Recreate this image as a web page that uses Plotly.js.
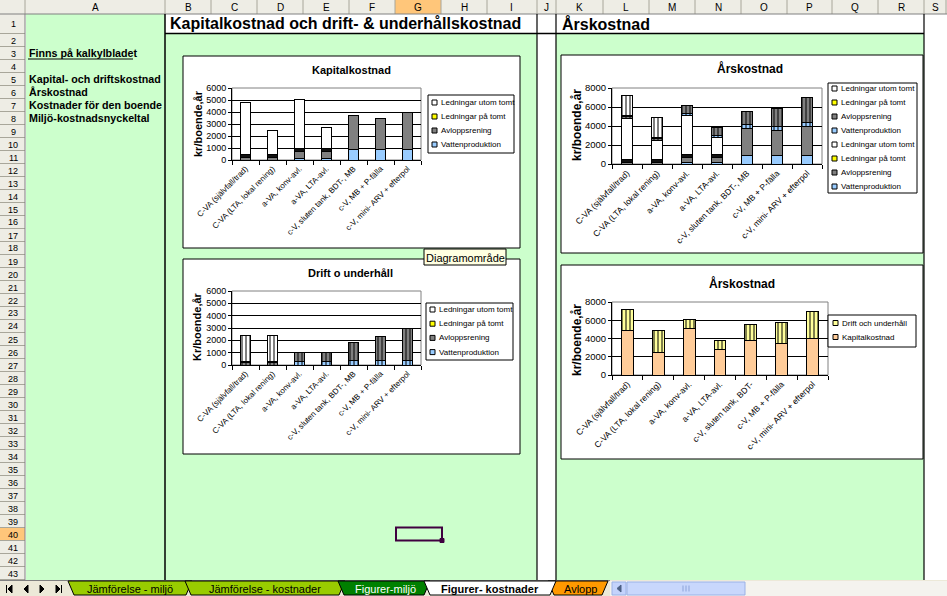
<!DOCTYPE html>
<html><head><meta charset="utf-8">
<script src="https://cdn.plot.ly/plotly-3.0.1.min.js"></script>
<style>html,body{margin:0;padding:0;background:#fff;overflow:hidden}#chart{width:947px;height:596px}</style>
</head><body><div id="chart"></div>
<script>
// ---------- DATA ----------
const categories = ["C-VA (självfall/trad)", "C-VA (LTA, lokal rening)", "a-VA, konv-avl.", "a-VA, LTA-avl.",
  "c-V, sluten tank, BDT-, MB", "c-V, MB + P-fälla", "c-V, mini- ARV + efterpol"];
const categoriesChart4 = ["C-VA (självfall/trad)", "C-VA (LTA, lokal rening)", "a-VA, konv-avl.", "a-VA, LTA-avl.",
  "c-V, sluten tank, BDT-", "c-V, MB + P-fälla", "c-V, mini- ARV + efterpol"];
const seriesNames = ["Vattenproduktion", "Avloppsrening", "Ledningar på tomt", "Ledningar utom tomt"];
// Kapitalkostnad (kr/boende, år)
const kapVatten      = [0, 0, 150, 150, 900, 900, 900];
const kapAvlopp      = [200, 200, 550, 550, 2850, 2600, 3100];
const kapLedPaTomt   = [300, 300, 300, 300, 0, 0, 0];
const kapLedUtomTomt = [4330, 2000, 4080, 1750, 0, 0, 0];
// Drift o underhåll (kr/boende, år)
const driftVatten      = [0, 0, 250, 250, 400, 400, 400];
const driftAvlopp      = [200, 200, 800, 800, 1400, 1900, 2550];
const driftLedPaTomt   = [100, 100, 0, 0, 0, 0, 0];
const driftLedUtomTomt = [2100, 2100, 0, 0, 0, 0, 0];
// Årskostnad totals
const kapitalkostnad   = [4830, 2500, 5080, 2750, 3750, 3500, 4000];
const driftOchUnderhall = [2400, 2400, 1050, 1050, 1800, 2300, 2950];
const columnLetters = ["A","B","C","D","E","F","G","H","I","J","K","L","M","N","O","P","Q","R","S"];
const sheetTabs = ["Jämförelse - miljö", "Jämförelse - kostnader", "Figurer-miljö", "Figurer- kostnader", "Avlopp"];
const sheetList = ["Kapital- och driftskostnad", "Årskostnad", "Kostnader för den boende", "Miljö-kostnadsnyckeltal"];

// ---------- HELPERS ----------
const W = 947, H = 596;
const fx = p => p / W, fy = p => 1 - p / H;
const FONT = "Liberation Sans, Arial, sans-serif";
const shapes = [], annotations = [];
function rect(x0, y0, x1, y1, fill, line, lw, layer) {
  shapes.push({type:'rect', xref:'paper', yref:'paper', x0:fx(x0), x1:fx(x1), y0:fy(y1), y1:fy(y0),
    fillcolor: fill || 'rgba(0,0,0,0)', line:{color: line || 'rgba(0,0,0,0)', width: line ? (lw === undefined ? 1 : lw) : 0},
    layer: layer || 'below'});
}
function seg(x0, y0, x1, y1, color, w, layer) {
  shapes.push({type:'line', xref:'paper', yref:'paper', x0:fx(x0), x1:fx(x1), y0:fy(y0), y1:fy(y1),
    line:{color:color, width:w || 1}, layer: layer || 'below'});
}
function poly(pts, fill, line, layer) {
  const d = pts.map((p, i) => (i ? 'L' : 'M') + fx(p[0]) + ',' + fy(p[1])).join(' ') + ' Z';
  shapes.push({type:'path', xref:'paper', yref:'paper', path:d, fillcolor:fill, line:{color:line || '#000', width:1}, layer: layer || 'below'});
}
function text(t, x, y, o = {}) {
  annotations.push({text:t, xref:'paper', yref:'paper', x:fx(x), y:fy(y), xanchor:o.xa || 'left', yanchor:o.ya || 'middle',
    showarrow:false, borderpad:0, textangle:o.angle || 0,
    font:{family:o.family || FONT, size:o.size || 10, color:o.color || '#000'}});
}

// ---------- SPREADSHEET ----------
const GREEN = '#CCFFCC', HDR = '#EEEDE5', HDRLINE = '#A8A69A';
rect(0, 0, 947, 14, HDR);
rect(0, 14, 25, 580, HDR);
rect(26, 14, 165, 580, GREEN);
rect(165, 33.5, 537, 580, GREEN);
rect(556, 33.5, 924, 580, GREEN);
const colEdges = [25, 165, 211, 257, 303, 349, 395, 441, 487, 537, 556, 603, 649, 695, 741, 787, 832, 878, 924, 946];
// header highlight for G and row 40
rect(395, 0, 441, 14, '#FFC67A');
const rowTop = n => n === 1 ? 14 : (n === 2 ? 33.5 : 46.5 + (n - 3) * 13);
const rowBot = n => n === 1 ? 33.5 : rowTop(n) + 13;
rect(0, rowTop(40), 25, rowBot(40), '#FFC67A');
colEdges.forEach(x => seg(x, 0, x, 14, HDRLINE, 1));
seg(0, 14, 947, 14, '#808080', 1);
for (let n = 1; n <= 43; n++) seg(0, rowBot(n), 25, rowBot(n), HDRLINE, 1);
seg(25, 14, 25, 580, '#808080', 1);
columnLetters.forEach((c, i) => text(c, (colEdges[i] + colEdges[i + 1]) / 2, 7.5, {xa:'center', size:10}));
for (let n = 1; n <= 43; n++) text(String(n), 13, (rowTop(n) + rowBot(n)) / 2 + 0.5, {xa:'center', size:9});
// thick borders
seg(165, 14, 165, 580, '#000', 1.5);
seg(165, 33.5, 924, 33.5, '#000', 1.5);
seg(537, 14, 537, 580, '#000', 1.2);
seg(556, 14, 556, 580, '#000', 1.2);
seg(924, 14, 924, 580, '#000', 1.2);
// texts in sheet
text('<b>Kapitalkostnad och drift- &amp; underhållskostnad</b>', 169, 24, {size:16});
text('<b>Årskostnad</b>', 561, 24, {size:16});
text('<b>Finns på kalkylbladet</b>', 28, 53, {size:10.7});
seg(28, 59, 133, 59, '#000', 1);
sheetList.forEach((s, i) => text('<b>' + s + '</b>', 28, 79 + i * 13, {size:10.7}));
// selected cell G40
rect(396, rowTop(40), 442, rowBot(40), 'rgba(0,0,0,0)', '#400040', 2);
rect(440, rowBot(40) - 2, 444, rowBot(40) + 2, '#400040', '#400040', 1);

// ---------- CHART FRAMES ----------
function frame(x0, y0, x1, y1) { rect(x0, y0, x1, y1, '#FFFFFF', '#000', 1); }
function plotArea(x0, y0, x1, y1) { rect(x0, y0, x1, y1, '#FFFFFF', '#808080', 1); }
function legendBox(x0, y0, x1, y1, items, sqx, tx, size) {
  rect(x0, y0, x1, y1, '#FFFFFF', '#000', 1);
  items.forEach(it => {
    rect(sqx, it.y - 2.5, sqx + 5, it.y + 2.5, it.color, '#000', 1);
    text(it.label, tx, it.y, {size:size});
  });
}
const COL = {"Vattenproduktion":'#99CCFF', "Avloppsrening":'#808080', "Ledningar på tomt":'#FFFF00', "Ledningar utom tomt":'#FFFFFF'};
const BARCOL = ['#99CCFF', '#808080', '#111111', '#FFFFFF'];

// Chart 1
frame(183, 56, 520, 248);
plotArea(232, 88, 421, 160);
text('<b>Kapitalkostnad</b>', 351, 70, {xa:'center', size:11});
text('<b>kr/boende,år</b>', 198, 124, {xa:'center', angle:-90, size:11});
legendBox(428, 95, 514, 153, [3,2,1,0].map((k, i) => ({label:seriesNames[k], color:COL[seriesNames[k]], y:102.5 + i * 14})), 432, 440, 8);

// Chart 2
frame(183, 259, 520, 454);
plotArea(232, 291, 421, 365);
text('<b>Drift o underhåll</b>', 350, 273, {xa:'center', size:11});
text('<b>Kr/boende,år</b>', 197, 327, {xa:'center', angle:-90, size:11});
legendBox(426, 303, 513, 360, [3,2,1,0].map((k, i) => ({label:seriesNames[k], color:COL[seriesNames[k]], y:309.5 + i * 14.2})), 430, 438, 8);

// Tooltip
rect(424, 249, 506, 265, '#FFFFE1', '#000', 1);
text('Diagramområde', 465, 257.5, {xa:'center', size:11});

// Chart 3
frame(561, 55, 923, 253);
plotArea(612, 88, 822, 164);
text('<b>Årskostnad</b>', 750, 69, {xa:'center', size:12});
text('<b>kr/boende,år</b>', 577, 125, {xa:'center', angle:-90, size:12});
legendBox(828, 83, 917, 193, [3,2,1,0,3,2,1,0].map((k, i) => ({label:seriesNames[k], color:COL[seriesNames[k]], y:88.5 + i * 14})), 832, 840, 8);

// Chart 4
frame(561, 265, 923, 459);
plotArea(612, 302, 828, 375);
text('<b>Årskostnad</b>', 742, 283, {xa:'center', size:12});
text('<b>kr/boende,år</b>', 577, 340, {xa:'center', angle:-90, size:12});
legendBox(828, 315, 916, 347, [{label:'Drift och underhåll', color:'#FFFF99', y:323}, {label:'Kapitalkostnad', color:'#FFCC99', y:337}], 833, 841, 8);

// ---------- SHEET TABS ----------
rect(0, 580, 947, 596, '#ECE9D8');
seg(0, 580.5, 610, 580.5, '#808080', 1);
// nav triangles
[[8, 'L', true], [24, 'L', false], [40, 'R', false], [56, 'R', true]].forEach(([x, dir, bar]) => {
  if (dir === 'L') { poly([[x + 4, 585], [x + 4, 593], [x, 589]], '#000', '#000'); if (bar) seg(x - 1.5, 585, x - 1.5, 593, '#000', 1); }
  else { poly([[x, 585], [x, 593], [x + 4, 589]], '#000', '#000'); if (bar) seg(x + 5.5, 585, x + 5.5, 593, '#000', 1); }
});
const tabGeom = [[68, 192, '#99CC00'], [185, 345, '#99CC00'], [338, 430, '#008000'], [424, 556, '#FFFFFF'], [548, 608, '#FF9900']];
[0, 1, 2, 4, 3].forEach(ti => {
  const [a, b, fill] = tabGeom[ti];
  poly([[a, 581], [a + 6, 595], [b - 6, 595], [b, 581]], fill, '#000');
});
text(sheetTabs[0], 130, 589, {xa:'center', size:11});
text(sheetTabs[1], 265, 589, {xa:'center', size:11});
text(sheetTabs[2], 385, 589, {xa:'center', size:11, color:'#FFFFFF'});
text('<b>' + sheetTabs[3] + '</b>', 490, 589, {xa:'center', size:11});
text(sheetTabs[4], 580, 589, {xa:'center', size:11});
// scrollbar
rect(610, 581, 947, 596, '#F4F3EE');
rect(612, 582, 626, 595, '#C4D3FC', '#9AB1E6', 1);
poly([[621, 585], [621, 592], [617, 588.5]], '#4D6185', '#4D6185');
rect(627, 582, 745, 595, '#C8D7FC', '#9AB1E6', 1);
[683, 686, 689].forEach(x => seg(x, 585.5, x, 591.5, '#8CA3D9', 1));

// ---------- TRACES ----------
const traces = [];
function bar(xs, ys, ax, color, pattern) {
  const m = {color:color, line:{color:'#000', width:1}};
  if (pattern) m.pattern = {shape:'|', fgcolor:'#000', bgcolor:color, size:4, solidity:0.25, fillmode:'replace'};
  traces.push({type:'bar', x:xs, y:ys, xaxis:'x' + ax, yaxis:'y' + ax, marker:m, showlegend:false, hoverinfo:'skip'});
}
const kap = [kapVatten, kapAvlopp, kapLedPaTomt, kapLedUtomTomt];
const drift = [driftVatten, driftAvlopp, driftLedPaTomt, driftLedUtomTomt];
kap.forEach((s, i) => bar(categories, s, '', BARCOL[i], false));
drift.forEach((s, i) => bar(categories, s, '2', BARCOL[i], true));
kap.forEach((s, i) => bar(categories, s, '3', BARCOL[i], false));
drift.forEach((s, i) => bar(categories, s, '3', BARCOL[i], true));
bar(categoriesChart4, kapitalkostnad, '4', '#FFCC99', false);
bar(categoriesChart4, driftOchUnderhall, '4', '#FFFF99', true);

function xAxis(x0, x1, anchor, fs) {
  return {domain:[fx(x0), fx(x1)], anchor:anchor, type:'category', range:[-0.5, 6.5], showline:true, linecolor:'#000', linewidth:1,
    ticks:'outside', tickson:'boundaries', ticklen:4, tickcolor:'#000', tickangle:-45, showgrid:false, zeroline:false,
    tickfont:{family:FONT, size:fs, color:'#000'}, fixedrange:true};
}
function yAxis(top, bot, anchor, max, fs) {
  return {domain:[fy(bot), fy(top)], anchor:anchor, range:[0, max], dtick:max === 6000 ? 1000 : 2000, showline:true, linecolor:'#000', linewidth:1,
    ticks:'outside', ticklen:3, tickcolor:'#000', showgrid:true, gridcolor:'#000', gridwidth:1, zeroline:false,
    tickfont:{family:FONT, size:fs, color:'#000'}, fixedrange:true};
}
const layout = {
  width:W, height:H, margin:{l:0, r:0, t:0, b:0}, paper_bgcolor:'#FFFFFF', plot_bgcolor:'rgba(0,0,0,0)',
  barmode:'stack', bargap:0.62, showlegend:false, font:{family:FONT},
  xaxis:xAxis(232, 421, 'y', 8), yaxis:yAxis(88, 160, 'x', 6000, 9),
  xaxis2:xAxis(232, 421, 'y2', 8), yaxis2:yAxis(291, 365, 'x2', 6000, 9),
  xaxis3:xAxis(612, 822, 'y3', 8.5), yaxis3:yAxis(88, 164, 'x3', 8000, 9.5),
  xaxis4:xAxis(612, 828, 'y4', 8.5), yaxis4:yAxis(302, 375, 'x4', 8000, 9.5),
  shapes:shapes, annotations:annotations
};
Plotly.newPlot('chart', traces, layout, {staticPlot:true, displayModeBar:false});
</script></body></html>
